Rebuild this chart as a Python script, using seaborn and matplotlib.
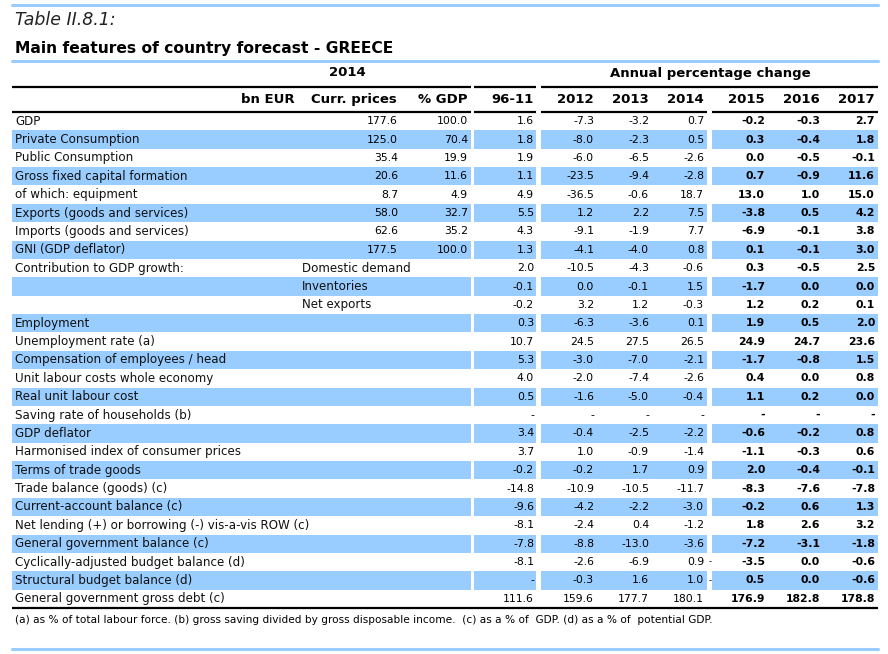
import matplotlib
matplotlib.use("Agg")
import matplotlib.pyplot as plt
import numpy as np
import seaborn as sns

labels = [
    "GDP", "Private Consumption", "Public Consumption", "Gross fixed capital formation",
    "of which: equipment", "Exports (goods and services)", "Imports (goods and services)",
    "GNI (GDP deflator)", "Contribution to GDP growth:", "", "", "Employment",
    "Unemployment rate (a)", "Compensation of employees / head", "Unit labour costs whole economy",
    "Real unit labour cost", "Saving rate of households (b)", "GDP deflator",
    "Harmonised index of consumer prices", "Terms of trade goods", "Trade balance (goods) (c)",
    "Current-account balance (c)", "Net lending (+) or borrowing (-) vis-a-vis ROW (c)",
    "General government balance (c)", "Cyclically-adjusted budget balance (d)",
    "Structural budget balance (d)", "General government gross debt (c)",
]
sub_labels = {8: "Domestic demand", 9: "Inventories", 10: "Net exports"}

nan = np.nan
curr_prices = [177.6, 125.0, 35.4, 20.6, 8.7, 58.0, 62.6, 177.5]
pct_gdp = [100.0, 70.4, 19.9, 11.6, 4.9, 32.7, 35.2, 100.0]

avg_96_11 = [1.6, 1.8, 1.9, 1.1, 4.9, 5.5, 4.3, 1.3, 2.0, -0.1, -0.2, 0.3, 10.7, 5.3, 4.0, 0.5,
             nan, 3.4, 3.7, -0.2, -14.8, -9.6, -8.1, -7.8, -8.1, nan, 111.6]
y2012 = [-7.3, -8.0, -6.0, -23.5, -36.5, 1.2, -9.1, -4.1, -10.5, 0.0, 3.2, -6.3, 24.5, -3.0, -2.0, -1.6,
         nan, -0.4, 1.0, -0.2, -10.9, -4.2, -2.4, -8.8, -2.6, -0.3, 159.6]
y2013 = [-3.2, -2.3, -6.5, -9.4, -0.6, 2.2, -1.9, -4.0, -4.3, -0.1, 1.2, -3.6, 27.5, -7.0, -7.4, -5.0,
         nan, -2.5, -0.9, 1.7, -10.5, -2.2, 0.4, -13.0, -6.9, 1.6, 177.7]
y2014 = [0.7, 0.5, -2.6, -2.8, 18.7, 7.5, 7.7, 0.8, -0.6, 1.5, -0.3, 0.1, 26.5, -2.1, -2.6, -0.4,
         nan, -2.2, -1.4, 0.9, -11.7, -3.0, -1.2, -3.6, 0.9, 1.0, 180.1]
y2015 = [-0.2, 0.3, 0.0, 0.7, 13.0, -3.8, -6.9, 0.1, 0.3, -1.7, 1.2, 1.9, 24.9, -1.7, 0.4, 1.1,
         nan, -0.6, -1.1, 2.0, -8.3, -0.2, 1.8, -7.2, -3.5, 0.5, 176.9]
y2016 = [-0.3, -0.4, -0.5, -0.9, 1.0, 0.5, -0.1, -0.1, -0.5, 0.0, 0.2, 0.5, 24.7, -0.8, 0.0, 0.2,
         nan, -0.2, -0.3, -0.4, -7.6, 0.6, 2.6, -3.1, 0.0, 0.0, 182.8]
y2017 = [2.7, 1.8, -0.1, 11.6, 15.0, 4.2, 3.8, 3.0, 2.5, 0.0, 0.1, 2.0, 23.6, 1.5, 0.8, 0.0,
         nan, 0.8, 0.6, -0.1, -7.8, 1.3, 3.2, -1.8, -0.6, -0.6, 178.8]

year_headers = ["96-11", "2012", "2013", "2014", "2015", "2016", "2017"]
year_cols = [avg_96_11, y2012, y2013, y2014, y2015, y2016, y2017]

footnote = ("(a) as % of total labour force. (b) gross saving divided by gross disposable income.  "
            "(c) as a % of  GDP. (d) as a % of  potential GDP.")

sns.set_theme(style="white")
plt.rcParams["font.family"] = ["DejaVu Sans"]
plt.rcParams["text.color"] = "black"

BLUE = "#99ccff"
fig = plt.figure(figsize=(8.88, 6.54), dpi=100)
ax = fig.add_axes([0, 0, 1, 1])
ax.set_xlim(0, 888)
ax.set_ylim(654, 0)
ax.axis("off")

top, bottom = 112, 608
n = len(labels)
rh = (bottom - top) / n
centers = top + (np.arange(n) + 0.5) * rh

segments = [(12, 471), (474, 536), (541, 707), (712, 878)]

# shaded bands on alternate rows
for i in range(1, n, 2):
    for x0, x1 in segments:
        ax.barh(centers[i], x1 - x0, left=x0, height=rh, color=BLUE, linewidth=0)

# header lines
ax.plot([12, 878], [5, 5], color=BLUE, lw=2.2)
ax.plot([12, 878], [61, 61], color=BLUE, lw=2.2)
ax.plot([12, 878], [649, 649], color=BLUE, lw=2.2)
for x0, x1 in [(12, 471), (474, 536), (541, 878)]:
    ax.plot([x0, x1], [87, 87], color="black", lw=1.6, solid_capstyle="butt")
for x0, x1 in segments:
    ax.plot([x0, x1], [112, 112], color="black", lw=1.6, solid_capstyle="butt")
ax.plot([12, 878], [608, 608], color="black", lw=1.6, solid_capstyle="butt")

ax.text(15, 20, "Table II.8.1:", fontsize=12.5, style="italic", va="center", color="#222222")
ax.text(15, 48, "Main features of country forecast - GREECE", fontsize=11.2, weight="bold", va="center")
ax.text(347, 73, "2014", fontsize=9.5, weight="bold", ha="center", va="center")
ax.text(710, 73, "Annual percentage change", fontsize=9.5, weight="bold", ha="center", va="center")

hy = 99.5
ax.text(295, hy, "bn EUR", fontsize=9.5, weight="bold", ha="right", va="center")
ax.text(397, hy, "Curr. prices", fontsize=9.5, weight="bold", ha="right", va="center")
ax.text(467, hy, "% GDP", fontsize=9.5, weight="bold", ha="right", va="center")

year_right = [534, 594, 649, 704, 765, 820, 875]
for h, xr in zip(year_headers, year_right):
    ax.text(xr, hy, h, fontsize=9.5, weight="bold", ha="right", va="center")

fs = 8.6
for i, lab in enumerate(labels):
    ax.text(15, centers[i], lab, fontsize=fs, va="center", color="#111111")
    if i in sub_labels:
        ax.text(302, centers[i], sub_labels[i], fontsize=fs, va="center", color="#111111")

for i, (a, b) in enumerate(zip(curr_prices, pct_gdp)):
    ax.text(398, centers[i], f"{a:.1f}", fontsize=7.8, ha="right", va="center")
    ax.text(468, centers[i], f"{b:.1f}", fontsize=7.8, ha="right", va="center")

for j, (col, xr) in enumerate(zip(year_cols, year_right)):
    bold = j >= 4
    for i, v in enumerate(col):
        s = "-" if np.isnan(v) else f"{v:.1f}"
        ax.text(xr, centers[i], s, fontsize=7.8, ha="right", va="center",
                weight="bold" if bold else "normal")

# stray dashes after 2014 values in the budget balance rows
for i in (24, 25):
    ax.text(710, centers[i], "-", fontsize=6, ha="center", va="center")

ax.text(15, 620, footnote, fontsize=7.6, va="center")

fig.savefig("out.png", dpi=100)
